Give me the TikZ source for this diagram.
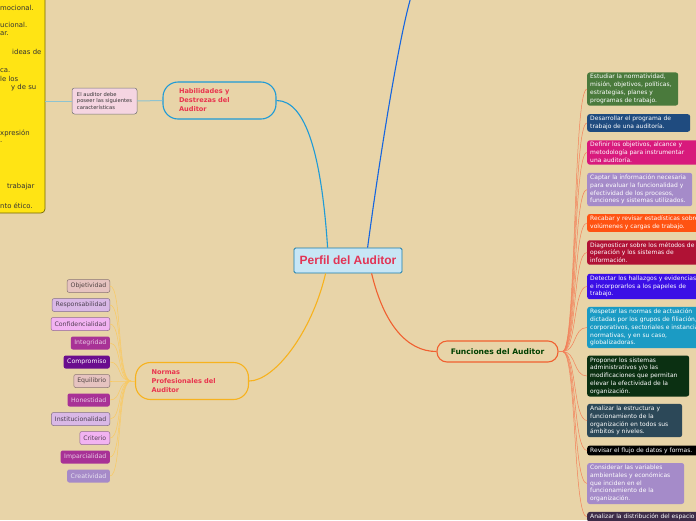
\documentclass[tikz,border=0pt]{standalone}
\usepackage{fontspec}
\setmainfont{DejaVu Sans}
\newfontfamily\arialfont{Liberation Sans}
\definecolor{fondo}{HTML}{E8D4A8}
\definecolor{rojo}{HTML}{E8344E}
\definecolor{celeste}{HTML}{1E9BD7}
\definecolor{enlace}{HTML}{8EC3D0}
\definecolor{azul}{HTML}{1565E0}
\definecolor{naranja}{HTML}{F06030}
\definecolor{ambar}{HTML}{F7B21E}
\definecolor{amarillo}{HTML}{FFE414}
\definecolor{rosa}{HTML}{E6C3C0}
\definecolor{lila}{HTML}{D9B8E6}
\definecolor{orquidea}{HTML}{F2B3F2}
\definecolor{magenta}{HTML}{A83296}
\definecolor{uva}{HTML}{6A0D8E}
\definecolor{malva}{HTML}{A68AC8}
\definecolor{oliva}{HTML}{4A7A3C}
\definecolor{marino}{HTML}{1F4B7F}
\definecolor{fucsia}{HTML}{D81A7C}
\definecolor{lavanda}{HTML}{A58BC9}
\definecolor{mandarina}{HTML}{FF5312}
\definecolor{carmin}{HTML}{B01235}
\definecolor{anil}{HTML}{3B0FE6}
\definecolor{turquesa}{HTML}{1B9BC4}
\definecolor{bosque}{HTML}{0B3012}
\definecolor{pizarra}{HTML}{2C4858}
\definecolor{ciruela}{HTML}{3D2B48}
\begin{document}
\begin{tikzpicture}[x=1pt,y=-1pt,
  pill/.style={draw,line width=1.1pt,rounded corners=15pt,fill=fondo,minimum height=37pt,
    align=left,text width=81pt,inner xsep=16pt,text=rojo,font=\bfseries\fontsize{6.6}{9}\selectfont},
  norma/.style={anchor=east,rounded corners=2pt,minimum height=13pt,inner xsep=3.5pt,inner ysep=0pt,
    font=\fontsize{6.2}{7}\selectfont},
  suave/.style={norma,fill=#1,draw=#1!60!black,line width=0.5pt,text=#1!35!black},
  fuerte/.style={norma,fill=#1,text=#1!25!white},
  tarea/.style={anchor=west,rounded corners=2.5pt,inner xsep=3pt,inner ysep=2pt,align=flush left,
    fill=#1,text=white,font=\fontsize{6}{7.8}\selectfont},
  nline/.style={draw=ambar!70,line width=0.5pt},
  fline/.style={draw=naranja!80,line width=0.5pt}]
\useasboundingbox (0,0) rectangle (696,520);
\clip (0,0) rectangle (696,520);
\fill[fondo] (0,0) rectangle (696,520);

% caracteristicas (recortado)
\node[draw=amarillo!45!black,fill=amarillo,line width=0.7pt,rounded corners=4pt,
  minimum width=65pt,minimum height=224pt] (rasgos) at (12.5,101) {};
\foreach \t/\xx/\yy in {mocional./0/8,ucional./0/25,ar./0/34,ideas de/12/52,ca./0/71,le los/0/79,
  y de su/11/88,xpresión/0/133,./0/142,trabajar/7/187,nto ético./0/206}
  \node[anchor=west,inner sep=0pt,font=\fontsize{6.9}{8}\selectfont,text=black!80] at (\xx,\yy) {\t};

\node[draw=black!55,fill=pink!70!magenta!40,rounded corners=2.5pt,line width=0.5pt,
  minimum width=65pt,minimum height=26pt,align=left,inner xsep=3pt,
  font=\fontsize{5.2}{6.3}\selectfont,text=black!80] (debe) at (104.5,101)
  {El auditor debe\\poseer las siguientes\\características};
\node[pill,draw=celeste] (hab) at (219.5,100.5) {Habilidades y\\Destrezas del\\Auditor};

% centro
\node[draw=celeste!80!black,fill=celeste!25,line width=0.8pt,rounded corners=1.5pt,
  minimum width=108pt,minimum height=25pt,inner sep=0pt,text=rojo!90!magenta,
  font=\arialfont\bfseries\fontsize{12}{13}\selectfont] (perfil) at (348,260.5) {Perfil del Auditor};

\node[pill,draw=ambar] (norm) at (192,381) {Normas\\Profesionales del\\Auditor};
\node[draw=naranja,line width=1.1pt,rounded corners=10pt,fill=fondo,minimum width=121pt,
  minimum height=21pt,inner sep=0pt,text=green!25!black,
  font=\bfseries\fontsize{7.6}{8}\selectfont] (fun) at (497.5,351.5) {Funciones del Auditor};

\coordinate (arriba) at (411,-3);

% ramas principales
\draw[enlace,line width=1pt] (rasgos.east) -- (debe.west);
\draw[enlace,line width=1pt] (debe.east) -- (hab.west);
\draw[celeste,line width=1.1pt] (hab.east) .. controls +(30,0) and +(-6,-90) .. ([xshift=34pt]perfil.north west);
\draw[azul,line width=1.1pt] ([xshift=74pt]perfil.north west) .. controls +(12,-90) and +(-12,40) .. (arriba);
\draw[naranja,line width=1.1pt] ([xshift=78pt]perfil.south west) .. controls +(12,50) and +(-30,0) .. (fun.west);
\draw[ambar,line width=1.1pt] ([xshift=32pt]perfil.south west) .. controls +(-14,60) and +(25,0) .. (norm.east);

% normas
\node[suave=rosa] (obj) at (110,286) {Objetividad};
\node[suave=lila] (res) at (110,305) {Responsabilidad};
\node[suave=orquidea] (con) at (110,324) {Confidencialidad};
\node[fuerte=magenta] (int) at (110,343) {Integridad};
\node[fuerte=uva,text=white] (com) at (110,362) {Compromiso};
\node[suave=rosa] (equ) at (110,381) {Equilibrio};
\node[fuerte=magenta] (hon) at (110,400) {Honestidad};
\node[suave=lila] (ins) at (110,419) {Institucionalidad};
\node[suave=orquidea] (cri) at (110,438) {Criterio};
\node[fuerte=magenta] (imp) at (110,457) {Imparcialidad};
\node[fuerte=malva] (cre) at (110,476) {Creatividad};
\coordinate (hubN) at ([xshift=-4pt]norm.west);
\draw[nline] (norm.west) -- (hubN);
\foreach \n in {obj,res,con,int,com,equ,hon,ins,cri,imp,cre}
  \draw[nline] (hubN) .. controls +(-14,0) and +(12,0) .. (\n.east);

% funciones
\node[tarea=oliva,text width=85pt] (f1) at (587,89) {Estudiar la normatividad,\\misión, objetivos, políticas,\\estrategias, planes y\\programas de trabajo.};
\node[tarea=marino,text width=97pt] (f2) at (587,123) {Desarrollar el programa de\\trabajo de una auditoría.};
\node[tarea=fucsia,text width=110pt] (f3) at (587,152.5) {Definir los objetivos, alcance y\\metodología para instrumentar\\una auditoría.};
\node[tarea=lavanda,text width=99pt] (f4) at (587,189.5) {Captar la información necesaria\\para evaluar la funcionalidad y\\efectividad de los procesos,\\funciones y sistemas utilizados.};
\node[tarea=mandarina,text width=120pt] (f5) at (587,223) {Recabar y revisar estadísticas sobre\\volúmenes y cargas de trabajo.};
\node[tarea=carmin,text width=110pt] (f6) at (587,252.5) {Diagnosticar sobre los métodos de\\operación y los sistemas de\\información.};
\node[tarea=anil,text width=115pt] (f7) at (587,286.5) {Detectar los hallazgos y evidencias\\e incorporarlos a los papeles de\\trabajo.};
\node[tarea=turquesa,text width=125pt] (f8) at (587,327.5) {Respetar las normas de actuación\\dictadas por los grupos de filiación,\\corporativos, sectoriales e instancias\\normativas, y en su caso,\\globalizadoras.};
\node[tarea=bosque,text width=96pt] (f9) at (587,376) {Proponer los sistemas\\administrativos y/o las\\modificaciones que permitan\\elevar la efectividad de la\\organización.};
\node[tarea=pizarra,text width=89pt] (f10) at (587,420.5) {Analizar la estructura y\\funcionamiento de la\\organización en todos sus\\ámbitos y niveles.};
\node[tarea=black,text width=115pt] (f11) at (587,450.5) {Revisar el flujo de datos y formas.};
\node[tarea=lavanda,text width=91pt] (f12) at (587,483.5) {Considerar las variables\\ambientales y económicas\\que inciden en el\\funcionamiento de la\\organización.};
\node[tarea=ciruela,text width=120pt] (f13) at (587,517) {Analizar la distribución del espacio};
\coordinate (hubF) at ([xshift=4pt]fun.east);
\draw[fline] (fun.east) -- (hubF);
\foreach \n in {f1,f2,f3,f4,f5,f6,f7,f8,f9,f10,f11,f12,f13}
  \draw[fline] (hubF) .. controls +(14,0) and +(-14,0) .. (\n.west);
\end{tikzpicture}
\end{document}
